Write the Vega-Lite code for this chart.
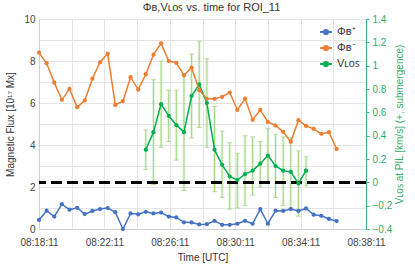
{
  "$schema": "https://vega.github.io/schema/vega-lite/v6.json",
  "autosize": {"type": "none"},
  "padding": {"left": 39, "top": 19, "right": 49, "bottom": 39},
  "width": 327,
  "height": 210,
  "background": "white",
  "title": {"text": "Φʙ,Vʟᴏꜱ vs. time for ROI_11", "font": "Liberation Sans", "fontSize": 11, "fontWeight": "normal", "color": "#333333", "dx": 9, "offset": 1},
  "config": {
    "view": {"stroke": null},
    "axis": {"labelFont": "Liberation Sans", "titleFont": "Liberation Sans", "labelFontSize": 10, "titleFontSize": 10, "titleFontWeight": "normal", "labelColor": "#444444", "titleColor": "#333333", "gridColor": "#e4e4e4", "domainColor": "#d0d0d0", "ticks": false},
    "legend": {"orient": "top-right", "offset": 6, "labelFont": "Liberation Sans", "labelFontSize": 11, "labelColor": "#333333", "symbolType": "M-1,0H1M-0.35,0A0.35,0.35,0,1,0,0.35,0A0.35,0.35,0,1,0,-0.35,0", "symbolSize": 140, "symbolStrokeWidth": 2, "rowPadding": 2}
  },
  "data": {"values": [
    {"s":"p","t":"2020-01-01T08:18:11","y":0.43},{"s":"p","t":"2020-01-01T08:18:39","y":0.87},{"s":"p","t":"2020-01-01T08:19:07","y":0.59},{"s":"p","t":"2020-01-01T08:19:35","y":1.18},{"s":"p","t":"2020-01-01T08:20:03","y":0.92},{"s":"p","t":"2020-01-01T08:20:31","y":1.01},{"s":"p","t":"2020-01-01T08:20:59","y":0.71},{"s":"p","t":"2020-01-01T08:21:27","y":0.86},{"s":"p","t":"2020-01-01T08:21:55","y":0.95},{"s":"p","t":"2020-01-01T08:22:23","y":1.0},
    {"s":"p","t":"2020-01-01T08:22:51","y":0.8},{"s":"p","t":"2020-01-01T08:23:19","y":0.0},{"s":"p","t":"2020-01-01T08:23:47","y":0.74},{"s":"p","t":"2020-01-01T08:24:15","y":0.7},{"s":"p","t":"2020-01-01T08:24:43","y":0.82},{"s":"p","t":"2020-01-01T08:25:11","y":0.74},{"s":"p","t":"2020-01-01T08:25:39","y":0.78},{"s":"p","t":"2020-01-01T08:26:07","y":0.59},{"s":"p","t":"2020-01-01T08:26:35","y":0.55},{"s":"p","t":"2020-01-01T08:27:03","y":0.32},
    {"s":"p","t":"2020-01-01T08:27:31","y":0.31},{"s":"p","t":"2020-01-01T08:27:59","y":0.22},{"s":"p","t":"2020-01-01T08:28:27","y":0.23},{"s":"p","t":"2020-01-01T08:28:55","y":0.39},{"s":"p","t":"2020-01-01T08:29:23","y":0.2},{"s":"p","t":"2020-01-01T08:29:51","y":0.2},{"s":"p","t":"2020-01-01T08:30:19","y":0.25},{"s":"p","t":"2020-01-01T08:30:47","y":0.39},{"s":"p","t":"2020-01-01T08:31:15","y":0.25},{"s":"p","t":"2020-01-01T08:31:43","y":0.95},
    {"s":"p","t":"2020-01-01T08:32:11","y":0.25},{"s":"p","t":"2020-01-01T08:32:39","y":0.87},{"s":"p","t":"2020-01-01T08:33:07","y":0.86},{"s":"p","t":"2020-01-01T08:33:35","y":0.95},{"s":"p","t":"2020-01-01T08:34:03","y":0.86},{"s":"p","t":"2020-01-01T08:34:31","y":0.98},{"s":"p","t":"2020-01-01T08:34:59","y":0.68},{"s":"p","t":"2020-01-01T08:35:27","y":0.63},{"s":"p","t":"2020-01-01T08:35:55","y":0.48},{"s":"p","t":"2020-01-01T08:36:23","y":0.38},
    {"s":"n","t":"2020-01-01T08:18:11","y":8.4},{"s":"n","t":"2020-01-01T08:18:39","y":7.89},{"s":"n","t":"2020-01-01T08:19:07","y":6.97},{"s":"n","t":"2020-01-01T08:19:35","y":6.15},{"s":"n","t":"2020-01-01T08:20:03","y":6.67},{"s":"n","t":"2020-01-01T08:20:31","y":5.8},{"s":"n","t":"2020-01-01T08:20:59","y":6.12},{"s":"n","t":"2020-01-01T08:21:27","y":7.16},{"s":"n","t":"2020-01-01T08:21:55","y":7.94},{"s":"n","t":"2020-01-01T08:22:23","y":8.35},
    {"s":"n","t":"2020-01-01T08:22:51","y":5.91},{"s":"n","t":"2020-01-01T08:23:19","y":6.09},{"s":"n","t":"2020-01-01T08:23:47","y":7.23},{"s":"n","t":"2020-01-01T08:24:15","y":6.64},{"s":"n","t":"2020-01-01T08:24:43","y":7.37},{"s":"n","t":"2020-01-01T08:25:11","y":8.3},{"s":"n","t":"2020-01-01T08:25:39","y":8.84},{"s":"n","t":"2020-01-01T08:26:07","y":8.0},{"s":"n","t":"2020-01-01T08:26:35","y":7.91},{"s":"n","t":"2020-01-01T08:27:03","y":7.32},
    {"s":"n","t":"2020-01-01T08:27:31","y":7.69},{"s":"n","t":"2020-01-01T08:27:59","y":6.61},{"s":"n","t":"2020-01-01T08:28:27","y":6.2},{"s":"n","t":"2020-01-01T08:28:55","y":6.2},{"s":"n","t":"2020-01-01T08:29:23","y":6.29},{"s":"n","t":"2020-01-01T08:29:51","y":6.5},{"s":"n","t":"2020-01-01T08:30:19","y":5.67},{"s":"n","t":"2020-01-01T08:30:47","y":6.21},{"s":"n","t":"2020-01-01T08:31:15","y":5.2},{"s":"n","t":"2020-01-01T08:31:43","y":5.67},
    {"s":"n","t":"2020-01-01T08:32:11","y":5.1},{"s":"n","t":"2020-01-01T08:32:39","y":4.93},{"s":"n","t":"2020-01-01T08:33:07","y":4.63},{"s":"n","t":"2020-01-01T08:33:35","y":4.15},{"s":"n","t":"2020-01-01T08:34:03","y":5.18},{"s":"n","t":"2020-01-01T08:34:31","y":4.91},{"s":"n","t":"2020-01-01T08:34:59","y":4.77},{"s":"n","t":"2020-01-01T08:35:27","y":4.53},{"s":"n","t":"2020-01-01T08:35:55","y":4.61},{"s":"n","t":"2020-01-01T08:36:23","y":3.81},
    {"s":"v","t":"2020-01-01T08:24:43","y":0.28,"lo":0.11,"hi":0.45},{"s":"v","t":"2020-01-01T08:25:11","y":0.43,"lo":-0.02,"hi":0.88},{"s":"v","t":"2020-01-01T08:25:39","y":0.67,"lo":0.3,"hi":1.04},{"s":"v","t":"2020-01-01T08:26:07","y":0.57,"lo":0.35,"hi":0.79},{"s":"v","t":"2020-01-01T08:26:35","y":0.49,"lo":0.19,"hi":0.79},{"s":"v","t":"2020-01-01T08:27:03","y":0.43,"lo":-0.07,"hi":0.93},
    {"s":"v","t":"2020-01-01T08:27:31","y":0.74,"lo":0.38,"hi":1.1},{"s":"v","t":"2020-01-01T08:27:59","y":0.84,"lo":0.47,"hi":1.21},{"s":"v","t":"2020-01-01T08:28:27","y":0.68,"lo":0.3,"hi":1.06},{"s":"v","t":"2020-01-01T08:28:55","y":0.28,"lo":-0.08,"hi":0.65},{"s":"v","t":"2020-01-01T08:29:23","y":0.15,"lo":-0.13,"hi":0.44},{"s":"v","t":"2020-01-01T08:29:51","y":0.05,"lo":-0.23,"hi":0.34},
    {"s":"v","t":"2020-01-01T08:30:19","y":0.02,"lo":-0.22,"hi":0.25},{"s":"v","t":"2020-01-01T08:30:47","y":0.07,"lo":-0.2,"hi":0.4},{"s":"v","t":"2020-01-01T08:31:15","y":0.1,"lo":-0.11,"hi":0.39},{"s":"v","t":"2020-01-01T08:31:43","y":0.16,"lo":-0.04,"hi":0.35},{"s":"v","t":"2020-01-01T08:32:11","y":0.23,"lo":0.0,"hi":0.46},{"s":"v","t":"2020-01-01T08:32:39","y":0.14,"lo":-0.13,"hi":0.41},
    {"s":"v","t":"2020-01-01T08:33:07","y":0.1,"lo":-0.2,"hi":0.39},{"s":"v","t":"2020-01-01T08:33:35","y":0.09,"lo":-0.22,"hi":0.385},{"s":"v","t":"2020-01-01T08:34:03","y":-0.01,"lo":-0.29,"hi":0.27},{"s":"v","t":"2020-01-01T08:34:31","y":0.1,"lo":-0.03,"hi":0.22}
  ]},
  "encoding": {
    "x": {
      "field": "t", "type": "temporal", "title": "Time [UTC]",
      "scale": {"domain": [{"year": 2020, "month": 1, "date": 1, "hours": 8, "minutes": 18, "seconds": 11}, {"year": 2020, "month": 1, "date": 1, "hours": 8, "minutes": 38, "seconds": 11}]},
      "axis": {
        "values": [
          {"year": 2020, "month": 1, "date": 1, "hours": 8, "minutes": 18, "seconds": 11},
          {"year": 2020, "month": 1, "date": 1, "hours": 8, "minutes": 20, "seconds": 11},
          {"year": 2020, "month": 1, "date": 1, "hours": 8, "minutes": 22, "seconds": 11},
          {"year": 2020, "month": 1, "date": 1, "hours": 8, "minutes": 24, "seconds": 11},
          {"year": 2020, "month": 1, "date": 1, "hours": 8, "minutes": 26, "seconds": 11},
          {"year": 2020, "month": 1, "date": 1, "hours": 8, "minutes": 28, "seconds": 11},
          {"year": 2020, "month": 1, "date": 1, "hours": 8, "minutes": 30, "seconds": 11},
          {"year": 2020, "month": 1, "date": 1, "hours": 8, "minutes": 32, "seconds": 11},
          {"year": 2020, "month": 1, "date": 1, "hours": 8, "minutes": 34, "seconds": 11},
          {"year": 2020, "month": 1, "date": 1, "hours": 8, "minutes": 36, "seconds": 11},
          {"year": 2020, "month": 1, "date": 1, "hours": 8, "minutes": 38, "seconds": 11}
        ],
        "labelExpr": "(minutes(datum.value) % 4 == 2) ? timeFormat(datum.value, '%H:%M:%S') : ''",
        "grid": true, "labelPadding": 8, "titlePadding": 5, "labelOverlap": false, "labelFlush": false
      }
    }
  },
  "layer": [
    {
      "encoding": {
        "y": {
          "type": "quantitative", "scale": {"domain": [-0.4, 1.4]},
          "title": "Vʟᴏꜱ at PIL [km/s] (+, submergence)",
          "axis": {"orient": "right", "values": [-0.4, -0.2, 0, 0.2, 0.4, 0.6, 0.8, 1.0, 1.2, 1.4], "format": ".1~f", "grid": false, "domainColor": "#3cb371", "labelColor": "#2fae66", "titleColor": "#2fae66", "ticks": true, "tickColor": "#3cb371", "tickSize": 3, "labelPadding": 3, "titlePadding": 13, "titleAngle": 270}
        }
      },
      "layer": [
        {
          "transform": [{"filter": "datum.s == 'v'"}],
          "mark": {"type": "rule", "color": "#a9d98b", "strokeWidth": 3, "opacity": 0.25},
          "encoding": {"y": {"field": "lo", "type": "quantitative"}, "y2": {"field": "hi"}}
        },
        {
          "transform": [{"filter": "datum.s == 'v'"}],
          "mark": {"type": "rule", "color": "#9fd67f", "strokeWidth": 1},
          "encoding": {"y": {"field": "lo", "type": "quantitative"}, "y2": {"field": "hi"}}
        },
        {
          "transform": [{"filter": "datum.s == 'v'"}],
          "mark": {"type": "tick", "orient": "horizontal", "color": "#9fd67f", "size": 5, "thickness": 1},
          "encoding": {"y": {"field": "lo", "type": "quantitative"}}
        },
        {
          "transform": [{"filter": "datum.s == 'v'"}],
          "mark": {"type": "tick", "orient": "horizontal", "color": "#9fd67f", "size": 5, "thickness": 1},
          "encoding": {"y": {"field": "hi", "type": "quantitative"}}
        },
        {
          "mark": {"type": "rule", "color": "#000000", "strokeWidth": 2.5, "strokeDash": [11, 5]},
          "encoding": {"x": null, "y": {"datum": 0, "type": "quantitative"}}
        },
        {
          "transform": [{"filter": "datum.s == 'v'"}],
          "mark": {"type": "line", "strokeWidth": 1.5, "point": {"filled": true, "size": 18}},
          "encoding": {
            "y": {"field": "y", "type": "quantitative"},
            "color": {"field": "s", "type": "nominal", "title": null}
          }
        }
      ]
    },
    {
      "transform": [{"filter": "datum.s != 'v'"}],
      "mark": {"type": "line", "strokeWidth": 1.5, "point": {"filled": true, "size": 18}},
      "encoding": {
        "y": {
          "field": "y", "type": "quantitative", "scale": {"domain": [0, 10]},
          "title": "Magnetic Flux [10¹⁷ Mx]",
          "axis": {"orient": "left", "values": [0, 1, 2, 3, 4, 5, 6, 7, 8, 9, 10], "labelExpr": "datum.value % 2 == 0 ? datum.label : ''", "grid": true, "labelPadding": 4, "titlePadding": 8}
        },
        "color": {
          "field": "s", "type": "nominal", "title": null,
          "scale": {"domain": ["p", "n", "v"], "range": ["#4472c4", "#ed7d31", "#00b050"]},
          "legend": {"labelExpr": "datum.label == 'p' ? 'Φʙ⁺' : datum.label == 'n' ? 'Φʙ⁻' : 'Vʟᴏꜱ'"}
        }
      }
    }
  ],
  "resolve": {"scale": {"y": "independent"}}
}
